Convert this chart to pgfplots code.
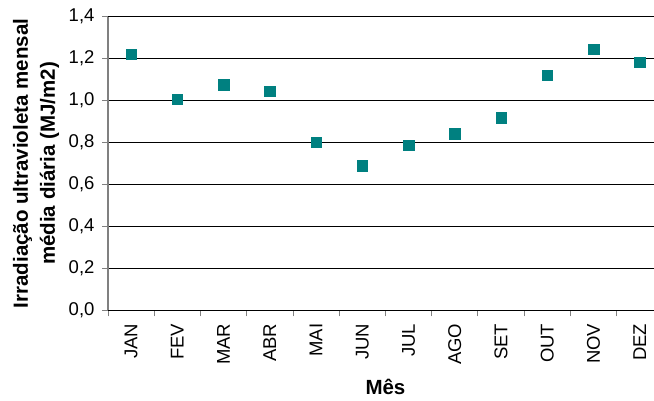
\documentclass[border=0pt]{standalone}
\usepackage{fontspec}
\setmainfont{Liberation Sans}
\usepackage{pgfplots}
\pgfplotsset{compat=1.18}
\definecolor{markteal}{HTML}{008080}
\definecolor{axisgray}{HTML}{808080}

\begin{document}
\begin{tikzpicture}
\useasboundingbox (0,0) rectangle (654pt,401pt);
\begin{axis}[
  at={(108pt,90.7pt)}, anchor=south west,
  scale only axis, width=554.9pt, height=293.6pt,
  xmin=-0.5, xmax=11.5, ymin=0, ymax=1.4,
  axis x line*=bottom, axis y line*=left,
  x axis line style={-, black, line width=0.9pt},
  y axis line style={-, axisgray, line width=1.6pt},
  tick align=outside, major tick length=6pt,
  tick style={axisgray, line width=0.9pt},
  ytick={0,0.2,0.4,0.6,0.8,1.0,1.2,1.4},
  yticklabel style={font=\fontsize{18.5}{20}\selectfont,
    /pgf/number format/fixed, /pgf/number format/fixed zerofill,
    /pgf/number format/precision=1, /pgf/number format/use comma,
    /pgf/number format/assume math mode=true},
  yticklabel shift=4pt,
  ymajorgrids, major grid style={black, line width=0.8pt},
  xtick={-0.5,0.5,1.5,2.5,3.5,4.5,5.5,6.5,7.5,8.5,9.5,10.5,11.5},
  xticklabels={},
  extra x ticks={0,1,2,3,4,5,6,7,8,9,10,11},
  extra x tick labels={JAN,FEV,MAR,ABR,MAI,JUN,JUL,AGO,SET,OUT,NOV,DEZ},
  extra x tick style={major tick length=0pt},
  xticklabel style={rotate=90, anchor=east, font=\fontsize{18.5}{20}\selectfont},
  xticklabel shift=10pt,
  xlabel={Mês},
  every axis x label/.style={at={(rel axis cs:0.5,0)}, yshift=-76.4pt, anchor=center,
    font=\bfseries\fontsize{20.5}{24}\selectfont},
  ylabel={Irradiação ultravioleta mensal\\média diária (MJ/m2)},
  every axis y label/.style={at={(rel axis cs:0,0.5)}, xshift=-72pt, rotate=90, anchor=center,
    align=center, font=\bfseries\fontsize{20.5}{27}\selectfont},
]
% monthly mean daily UV irradiation
\addplot[only marks, mark=square*, mark size=5.3pt,
  mark options={fill=markteal, draw=markteal}] coordinates {
  (0,1.221) (1,1.006) (2,1.077) (3,1.045) (4,0.801) (5,0.690)
  (6,0.787) (7,0.842) (8,0.918) (9,1.121) (10,1.245) (11,1.183)
};
\end{axis}
\end{tikzpicture}
\end{document}
